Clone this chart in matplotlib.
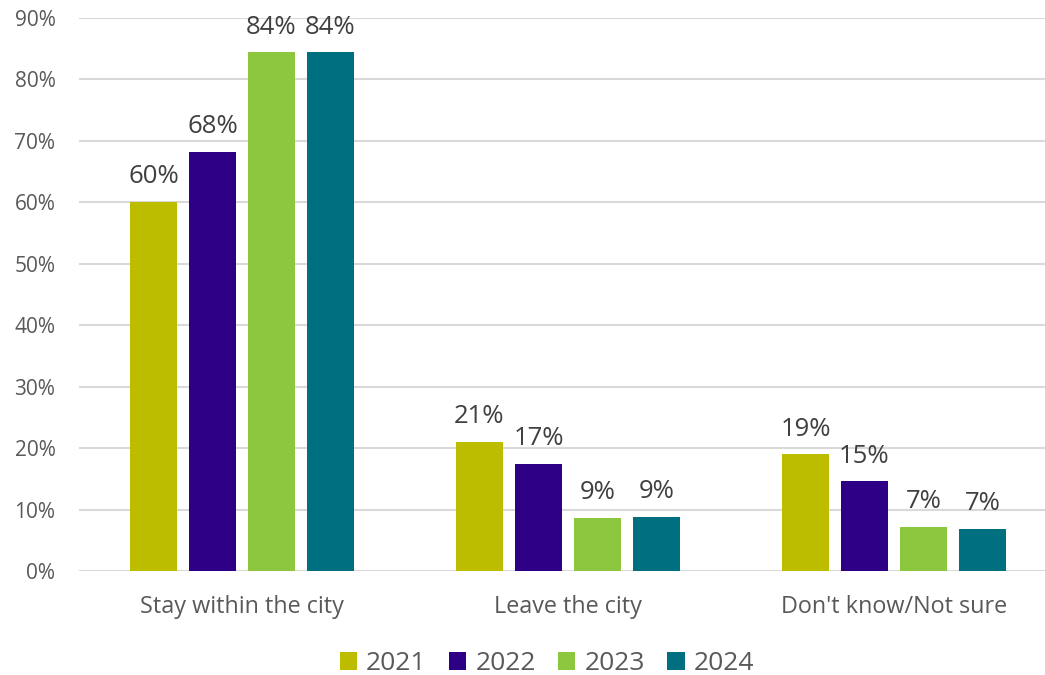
import matplotlib
matplotlib.use("Agg")
import matplotlib.pyplot as plt
import numpy as np
from matplotlib.ticker import FuncFormatter

# dados
categories = ["Stay within the city", "Leave the city", "Don't know/Not sure"]
years = ["2021", "2022", "2023", "2024"]
vals_2021 = [60.1, 21.0, 19.0]
vals_2022 = [68.2, 17.4, 14.6]
vals_2023 = [84.4, 8.6, 7.2]
vals_2024 = [84.4, 8.8, 6.8]
series = [vals_2021, vals_2022, vals_2023, vals_2024]
colors = ["#BDBD00", "#2E0085", "#8DC63F", "#006F7F"]

plt.rcParams["font.family"] = ["Open Sans", "DejaVu Sans"]

fig = plt.figure(figsize=(10.45, 6.75), dpi=100)
ax = fig.add_axes([79 / 1045, 1 - 571 / 675, (1057 - 79) / 1045, (571 - 18) / 675])

x = np.arange(len(categories))
width = 0.144
step = 0.181

for i, (vals, col, yr) in enumerate(zip(series, colors, years)):
    pos = x + (i - 1.5) * step
    ax.bar(pos, vals, width=width, color=col, label=yr, zorder=3)
    for px, v in zip(pos, vals):
        ax.annotate(f"{round(v)}%", (px, v), xytext=(0, 13.5), textcoords="offset points",
                    ha="center", va="baseline", fontsize=18.5, color="#404040")

ax.set_xlim(-0.5, 2.5)
ax.set_ylim(0, 90)
ax.set_yticks(range(0, 91, 10))
ax.yaxis.set_major_formatter(FuncFormatter(lambda v, p: f"{int(v)}%"))
ax.set_xticks(x)
ax.set_xticklabels(categories)
ax.tick_params(axis="y", length=0, pad=17, labelsize=15, labelcolor="#595959")
ax.tick_params(axis="x", length=0, pad=17, labelsize=16.8, labelcolor="#595959")
ax.grid(axis="y", color="#D9D9D9", linewidth=1.5, zorder=0)
for s in ax.spines.values():
    s.set_visible(False)

leg = fig.legend(loc="center", bbox_to_anchor=(547 / 1045, 1 - 664 / 675), ncol=4,
                 frameon=False, fontsize=19, handlelength=0.65, handleheight=0.65,
                 handletextpad=0.35, columnspacing=0.85)
for t in leg.get_texts():
    t.set_color("#595959")

fig.savefig("out.png", dpi=100)
